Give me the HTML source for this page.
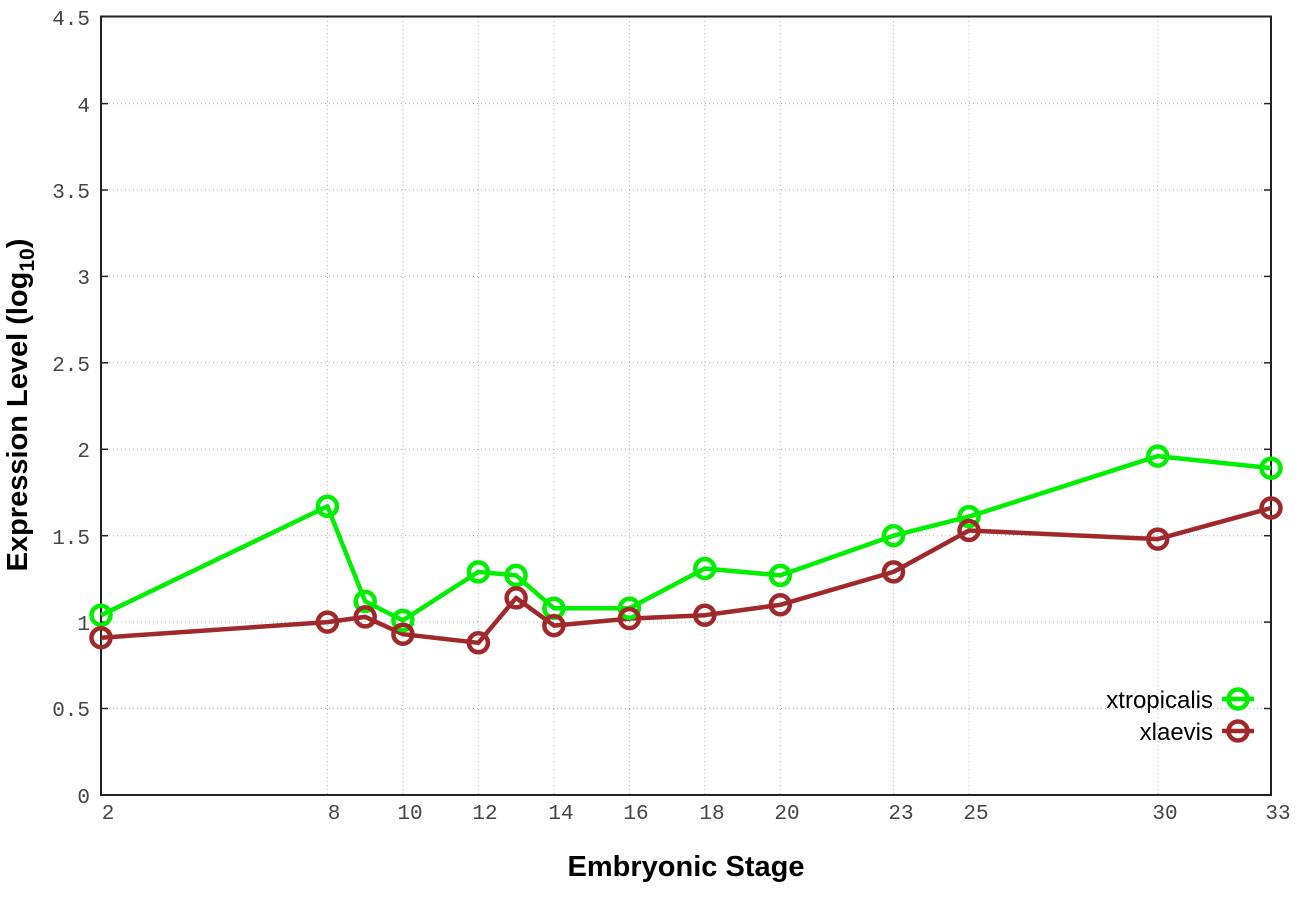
<!DOCTYPE html>
<html><head><meta charset="utf-8"><style>body{margin:0;background:#fff}svg{display:block}</style></head>
<body>
<svg width="1296" height="907" xmlns="http://www.w3.org/2000/svg">
<rect width="1296" height="907" fill="#fff"/>
<g stroke="#b0b0b0" stroke-width="1" stroke-dasharray="1,3">
<line x1="101" y1="708.5" x2="1271" y2="708.5"/>
<line x1="101" y1="622.1" x2="1271" y2="622.1"/>
<line x1="101" y1="535.7" x2="1271" y2="535.7"/>
<line x1="101" y1="449.3" x2="1271" y2="449.3"/>
<line x1="101" y1="362.8" x2="1271" y2="362.8"/>
<line x1="101" y1="276.4" x2="1271" y2="276.4"/>
<line x1="101" y1="190" x2="1271" y2="190"/>
<line x1="101" y1="103.6" x2="1271" y2="103.6"/>
<line x1="327.4" y1="17" x2="327.4" y2="795"/>
<line x1="402.9" y1="17" x2="402.9" y2="795"/>
<line x1="478.4" y1="17" x2="478.4" y2="795"/>
<line x1="553.9" y1="17" x2="553.9" y2="795"/>
<line x1="629.4" y1="17" x2="629.4" y2="795"/>
<line x1="704.8" y1="17" x2="704.8" y2="795"/>
<line x1="780.3" y1="17" x2="780.3" y2="795"/>
<line x1="893.5" y1="17" x2="893.5" y2="795"/>
<line x1="969" y1="17" x2="969" y2="795"/>
<line x1="1157.7" y1="17" x2="1157.7" y2="795"/>
</g>
<g stroke="#222" stroke-width="1.5">
<line x1="101" y1="708.5" x2="108" y2="708.5"/><line x1="1264" y1="708.5" x2="1271" y2="708.5"/>
<line x1="101" y1="622.1" x2="108" y2="622.1"/><line x1="1264" y1="622.1" x2="1271" y2="622.1"/>
<line x1="101" y1="535.7" x2="108" y2="535.7"/><line x1="1264" y1="535.7" x2="1271" y2="535.7"/>
<line x1="101" y1="449.3" x2="108" y2="449.3"/><line x1="1264" y1="449.3" x2="1271" y2="449.3"/>
<line x1="101" y1="362.8" x2="108" y2="362.8"/><line x1="1264" y1="362.8" x2="1271" y2="362.8"/>
<line x1="101" y1="276.4" x2="108" y2="276.4"/><line x1="1264" y1="276.4" x2="1271" y2="276.4"/>
<line x1="101" y1="190" x2="108" y2="190"/><line x1="1264" y1="190" x2="1271" y2="190"/>
<line x1="101" y1="103.6" x2="108" y2="103.6"/><line x1="1264" y1="103.6" x2="1271" y2="103.6"/>
</g>
<rect x="101" y="16.5" width="1170" height="778.5" fill="none" stroke="#222" stroke-width="2"/>
<g font-family="Liberation Mono, monospace" font-size="21" fill="#444" text-anchor="end">
<text x="90" y="803">0</text>
<text x="90" y="716">0.5</text>
<text x="90" y="630">1</text>
<text x="90" y="544">1.5</text>
<text x="90" y="457">2</text>
<text x="90" y="371">2.5</text>
<text x="90" y="284">3</text>
<text x="90" y="198">3.5</text>
<text x="90" y="112">4</text>
<text x="90" y="25">4.5</text>
</g>
<g font-family="Liberation Mono, monospace" font-size="21" fill="#444" text-anchor="middle">
<text x="108" y="819">2</text>
<text x="334" y="819">8</text>
<text x="410" y="819">10</text>
<text x="485" y="819">12</text>
<text x="561" y="819">14</text>
<text x="636" y="819">16</text>
<text x="712" y="819">18</text>
<text x="787" y="819">20</text>
<text x="901" y="819">23</text>
<text x="976" y="819">25</text>
<text x="1165" y="819">30</text>
<text x="1278" y="819">33</text>
</g>
<text x="686" y="876" font-family="Liberation Sans, sans-serif" font-weight="bold" font-size="29" text-anchor="middle">Embryonic Stage</text>
<text transform="translate(27,405) rotate(-90)" font-family="Liberation Sans, sans-serif" font-weight="bold" font-size="29" text-anchor="middle">Expression Level (log<tspan font-size="21" dy="7">10</tspan><tspan dy="-7">)</tspan></text>
<g fill="none" stroke-width="4.5" stroke-linejoin="round">
<polyline stroke="#00ee00" points="101,615.2 327.4,506.3 365.2,601.4 402.9,620.4 478.4,571.9 516.1,575.4 553.9,608.3 629.4,608.3 704.8,568.5 780.3,575.4 893.5,535.7 969,516.6 1157.7,456.1 1271,468.2"/>
<polyline stroke="#a0282a" points="101,637.7 327.4,622.1 365.2,616.9 402.9,634.2 478.4,642.8 516.1,597.9 553.9,625.6 629.4,618.6 704.8,615.2 780.3,604.8 893.5,571.9 969,530.5 1157.7,539.1 1271,508"/>
</g>
<g fill="none" stroke-width="4.5" stroke="#00ee00">
<circle cx="101" cy="615.2" r="9.5"/><circle cx="327.4" cy="506.3" r="9.5"/><circle cx="365.2" cy="601.4" r="9.5"/><circle cx="402.9" cy="620.4" r="9.5"/><circle cx="478.4" cy="571.9" r="9.5"/><circle cx="516.1" cy="575.4" r="9.5"/><circle cx="553.9" cy="608.3" r="9.5"/><circle cx="629.4" cy="608.3" r="9.5"/><circle cx="704.8" cy="568.5" r="9.5"/><circle cx="780.3" cy="575.4" r="9.5"/><circle cx="893.5" cy="535.7" r="9.5"/><circle cx="969" cy="516.6" r="9.5"/><circle cx="1157.7" cy="456.1" r="9.5"/><circle cx="1271" cy="468.2" r="9.5"/>
</g>
<g fill="none" stroke-width="4.5" stroke="#a0282a">
<circle cx="101" cy="637.7" r="9.5"/><circle cx="327.4" cy="622.1" r="9.5"/><circle cx="365.2" cy="616.9" r="9.5"/><circle cx="402.9" cy="634.2" r="9.5"/><circle cx="478.4" cy="642.8" r="9.5"/><circle cx="516.1" cy="597.9" r="9.5"/><circle cx="553.9" cy="625.6" r="9.5"/><circle cx="629.4" cy="618.6" r="9.5"/><circle cx="704.8" cy="615.2" r="9.5"/><circle cx="780.3" cy="604.8" r="9.5"/><circle cx="893.5" cy="571.9" r="9.5"/><circle cx="969" cy="530.5" r="9.5"/><circle cx="1157.7" cy="539.1" r="9.5"/><circle cx="1271" cy="508" r="9.5"/>
</g>
<g font-family="Liberation Sans, sans-serif" font-size="24" text-anchor="end" fill="#000">
<text x="1213" y="708">xtropicalis</text>
<text x="1213" y="740">xlaevis</text>
</g>
<line x1="1222" y1="699" x2="1254" y2="699" stroke="#00ee00" stroke-width="4.5"/>
<circle cx="1238" cy="699" r="9.5" fill="none" stroke="#00ee00" stroke-width="4.5"/>
<line x1="1222" y1="731" x2="1254" y2="731" stroke="#a0282a" stroke-width="4.5"/>
<circle cx="1238" cy="731" r="9.5" fill="none" stroke="#a0282a" stroke-width="4.5"/>
</svg>
</body></html>
